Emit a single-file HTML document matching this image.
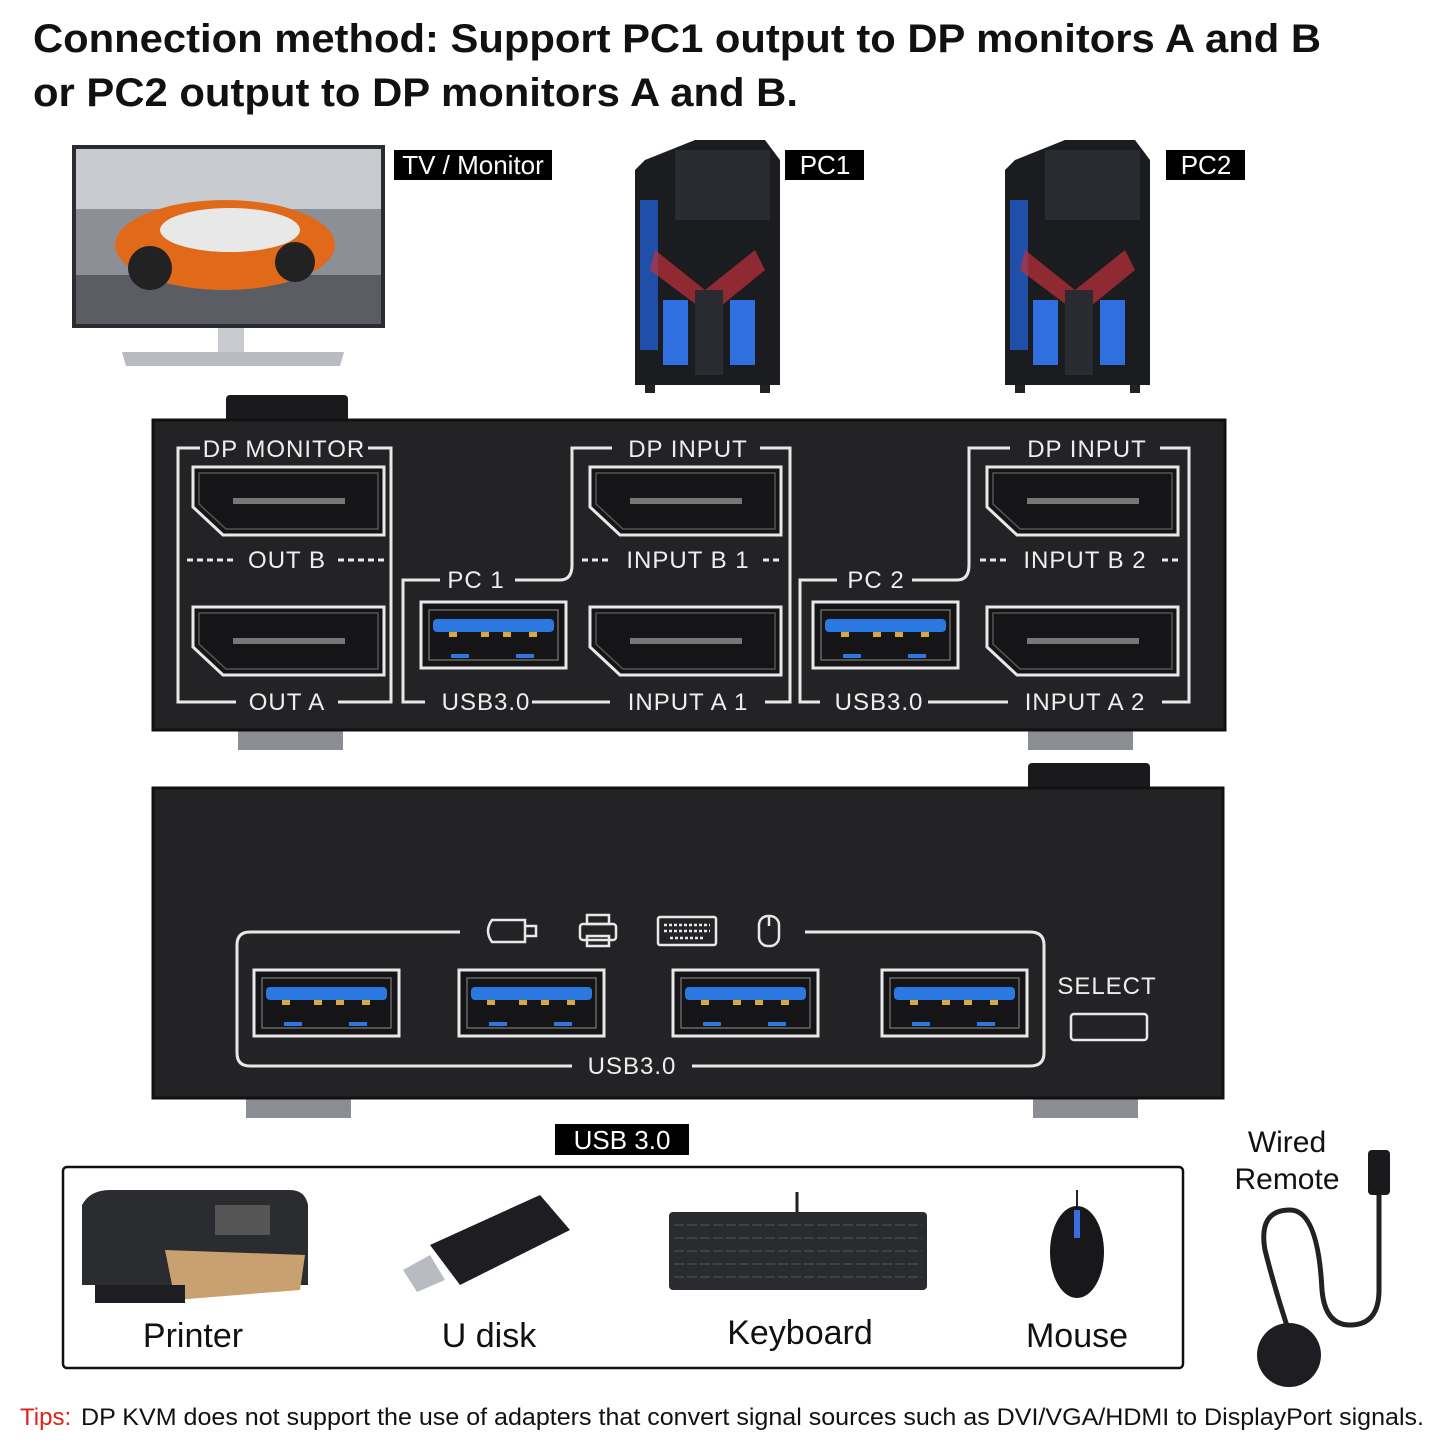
<!DOCTYPE html>
<html><head><meta charset="utf-8"><style>
html,body{margin:0;padding:0;background:#fff;}
svg{display:block}
</style></head><body>
<svg width="1445" height="1445" viewBox="0 0 1445 1445" xmlns="http://www.w3.org/2000/svg" font-family="Liberation Sans, Arial, sans-serif">
<defs>
<g id="dp"><path d="M0 0H191V68H30L0 40Z" fill="#151517" stroke="#e8e8e8" stroke-width="3"/><path d="M6 6H185V62H33L6 37Z" fill="none" stroke="#555" stroke-width="1.5"/><rect x="40" y="31" width="112" height="6" fill="#777"/></g>
<g id="usb"><rect x="0" y="0" width="145" height="66" fill="#151517" stroke="#e8e8e8" stroke-width="3"/><rect x="8" y="8" width="129" height="50" fill="none" stroke="#666" stroke-width="1.5"/><rect x="12" y="17" width="121" height="13" rx="4" fill="#2a78e0"/><rect x="28" y="30" width="8" height="5" fill="#d9a93a"/><rect x="60" y="30" width="8" height="5" fill="#d9a93a"/><rect x="82" y="30" width="8" height="5" fill="#d9a93a"/><rect x="108" y="30" width="8" height="5" fill="#d9a93a"/><rect x="30" y="52" width="18" height="4" fill="#2a78e0"/><rect x="95" y="52" width="18" height="4" fill="#2a78e0"/></g>
<g id="pc"><path d="M10 20L60 0H130L145 20V245H0V30Z" fill="#1b1c20"/><rect x="5" y="60" width="18" height="150" fill="#1f4fa8"/><rect x="40" y="10" width="95" height="70" fill="#2a2b30"/><path d="M20 110L70 150L120 110L130 130L75 175L15 130Z" fill="#c0303a" opacity=".7"/><rect x="28" y="160" width="25" height="65" fill="#2f6fe0"/><rect x="95" y="160" width="25" height="65" fill="#2f6fe0"/><rect x="60" y="150" width="28" height="85" fill="#2a2b30"/><rect x="10" y="245" width="10" height="8" fill="#222"/><rect x="125" y="245" width="10" height="8" fill="#222"/></g>
</defs>

<text x="33" y="52" font-size="40" font-weight="bold" fill="#111" textLength="1288" lengthAdjust="spacingAndGlyphs">Connection method: Support PC1 output to DP monitors A and B</text>
<text x="33" y="106" font-size="40" font-weight="bold" fill="#111" textLength="765" lengthAdjust="spacingAndGlyphs">or PC2 output to DP monitors A and B.</text>

<!-- monitor -->
<rect x="72" y="145" width="313" height="183" fill="#2a2c30"/>
<rect x="76" y="149" width="305" height="175" fill="#8c9096"/>
<rect x="76" y="149" width="305" height="60" fill="#c8ccd0"/>
<rect x="76" y="275" width="305" height="49" fill="#5a5e64"/>
<ellipse cx="225" cy="245" rx="110" ry="45" fill="#e06a1a"/>
<ellipse cx="230" cy="230" rx="70" ry="22" fill="#e8e8e8"/>
<circle cx="150" cy="268" r="22" fill="#222"/><circle cx="295" cy="262" r="20" fill="#222"/>
<rect x="218" y="328" width="26" height="25" fill="#c8cbd0"/>
<path d="M122 352H344L340 366H126Z" fill="#b8bcc2"/>
<rect x="394" y="150" width="158" height="30" fill="#000"/><text x="473" y="174" font-size="26" fill="#fff" text-anchor="middle">TV / Monitor</text>

<use href="#pc" x="635" y="140"/>
<use href="#pc" x="1005" y="140"/>
<rect x="785" y="150" width="79" height="30" fill="#000"/><text x="825" y="174" font-size="26" fill="#fff" text-anchor="middle">PC1</text>
<rect x="1166" y="150" width="79" height="30" fill="#000"/><text x="1206" y="174" font-size="26" fill="#fff" text-anchor="middle">PC2</text>

<!-- top panel -->
<rect x="226" y="395" width="122" height="30" rx="4" fill="#1a1a1c"/>
<rect x="238" y="728" width="105" height="22" fill="#8a8d92"/><rect x="1028" y="728" width="105" height="22" fill="#8a8d92"/>
<rect x="153" y="420" width="1072" height="310" fill="#232326" stroke="#111" stroke-width="3"/>
<g fill="none" stroke="#e8e8e8" stroke-width="3">
<path d="M200 448H178V702H200M368 448H391V702H368M200 702H236M338 702H368"/>
<path d="M200 448H180M370 448H390"/>
<path d="M440 580H403V702H425M515 580H560Q572 580 572 565V448H612M760 448H790V702H765M532 702H610"/>
<path d="M837 580H800V702H820M912 580H957Q969 580 969 565V448H1010M1160 448H1189V702H1162M928 702H1008"/>
</g>
<g stroke="#e8e8e8" stroke-width="3" stroke-dasharray="6,4"><path d="M187 560H235M338 560H384M582 560H612M763 560H781M980 560H1008M1162 560H1178"/></g>
<g font-size="24" fill="#eee" text-anchor="middle" letter-spacing="1">
<text x="284" y="457">DP MONITOR</text><text x="287" y="568">OUT B</text><text x="287" y="710">OUT A</text>
<text x="688" y="457">DP INPUT</text><text x="688" y="568">INPUT B 1</text><text x="688" y="710">INPUT A 1</text>
<text x="476" y="588">PC 1</text><text x="486" y="710">USB3.0</text>
<text x="1087" y="457">DP INPUT</text><text x="1085" y="568">INPUT B 2</text><text x="1085" y="710">INPUT A 2</text>
<text x="876" y="588">PC 2</text><text x="879" y="710">USB3.0</text>
</g>
<use href="#dp" x="193" y="467"/><use href="#dp" x="193" y="607"/>
<use href="#dp" x="590" y="467"/><use href="#dp" x="590" y="607"/>
<use href="#dp" x="987" y="467"/><use href="#dp" x="987" y="607"/>
<use href="#usb" x="421" y="602"/><use href="#usb" x="813" y="602"/>

<!-- bottom panel -->
<rect x="1028" y="763" width="122" height="30" rx="4" fill="#1a1a1c"/>
<rect x="246" y="1096" width="105" height="22" fill="#8a8d92"/><rect x="1033" y="1096" width="105" height="22" fill="#8a8d92"/>
<rect x="153" y="788" width="1070" height="310" fill="#232326" stroke="#111" stroke-width="3"/>
<path d="M460 932H250Q237 932 237 945V1053Q237 1066 250 1066H572M692 1066H1030Q1044 1066 1044 1053V945Q1044 932 1030 932H805" fill="none" stroke="#e8e8e8" stroke-width="3"/>
<use href="#usb" x="254" y="970"/><use href="#usb" x="459" y="970"/><use href="#usb" x="673" y="970"/><use href="#usb" x="882" y="970"/>
<g fill="none" stroke="#e8e8e8" stroke-width="2.5">
<path d="M492 920H525V942H492Q484 931 492 920ZM525 926H536V936H525"/>
<rect x="580" y="924" width="36" height="16" rx="3"/><rect x="587" y="915" width="22" height="9"/><rect x="587" y="936" width="22" height="10"/>
<rect x="658" y="917" width="58" height="28" rx="2"/><path d="M664 925H710M664 931H710M670 938H704" stroke-dasharray="3,2"/>
<rect x="759" y="916" width="20" height="30" rx="9"/><path d="M769 916V926"/>
<rect x="1071" y="1014" width="76" height="26" rx="3"/>
</g>
<text x="632" y="1074" font-size="24" fill="#eee" text-anchor="middle" letter-spacing="1">USB3.0</text>
<text x="1107" y="994" font-size="24" fill="#eee" text-anchor="middle" letter-spacing="1">SELECT</text>

<rect x="555" y="1124" width="134" height="31" fill="#000"/><text x="622" y="1149" font-size="26" fill="#fff" text-anchor="middle">USB 3.0</text>

<rect x="63" y="1167" width="1120" height="201" rx="4" fill="#fff" stroke="#111" stroke-width="2.5"/>
<path d="M82 1205Q90 1190 110 1190H290Q305 1190 308 1205V1285H82Z" fill="#2b2c30"/>
<rect x="215" y="1205" width="55" height="30" fill="#555"/>
<path d="M165 1250L305 1255L300 1290L175 1300Z" fill="#c9a070"/>
<rect x="95" y="1285" width="90" height="18" fill="#1e1e22"/>
<path d="M430 1245L540 1195L570 1230L460 1285Z" fill="#1e1e22"/>
<path d="M403 1270L430 1255L445 1280L417 1292Z" fill="#b8bcc2"/>
<rect x="669" y="1212" width="258" height="78" rx="4" fill="#2a2b2f"/>
<g stroke="#555" stroke-width="1">
<path d="M674 1225H922M674 1238H922M674 1251H922M674 1264H922M674 1277H922" stroke-dasharray="10,3"/>
</g>
<path d="M797 1192V1212" stroke="#222" stroke-width="3"/>
<path d="M1077 1190V1208" stroke="#222" stroke-width="2"/>
<ellipse cx="1077" cy="1252" rx="27" ry="46" fill="#18181b"/>
<rect x="1074" y="1210" width="6" height="28" fill="#3a6ee0"/>
<g font-size="34" fill="#111" text-anchor="middle">
<text x="193" y="1347">Printer</text><text x="489" y="1347">U disk</text><text x="800" y="1344">Keyboard</text><text x="1077" y="1347">Mouse</text>
</g>
<text x="1287" y="1152" font-size="30" fill="#111" text-anchor="middle">Wired</text>
<text x="1287" y="1189" font-size="30" fill="#111" text-anchor="middle">Remote</text>
<rect x="1368" y="1150" width="22" height="45" rx="4" fill="#1a1a1c"/>
<path d="M1379 1195V1290Q1379 1325 1350 1325Q1325 1325 1322 1290Q1318 1210 1290 1210Q1258 1210 1265 1250Q1275 1290 1290 1335" fill="none" stroke="#222" stroke-width="5"/>
<circle cx="1289" cy="1355" r="32" fill="#1e1e22"/>
<text x="20" y="1425" font-size="24" fill="#e0201a">Tips:</text>
<text x="81" y="1425" font-size="24" fill="#111" textLength="1343" lengthAdjust="spacingAndGlyphs">DP KVM does not support the use of adapters that convert signal sources such as DVI/VGA/HDMI to DisplayPort signals.</text>
</svg>
</body></html>
